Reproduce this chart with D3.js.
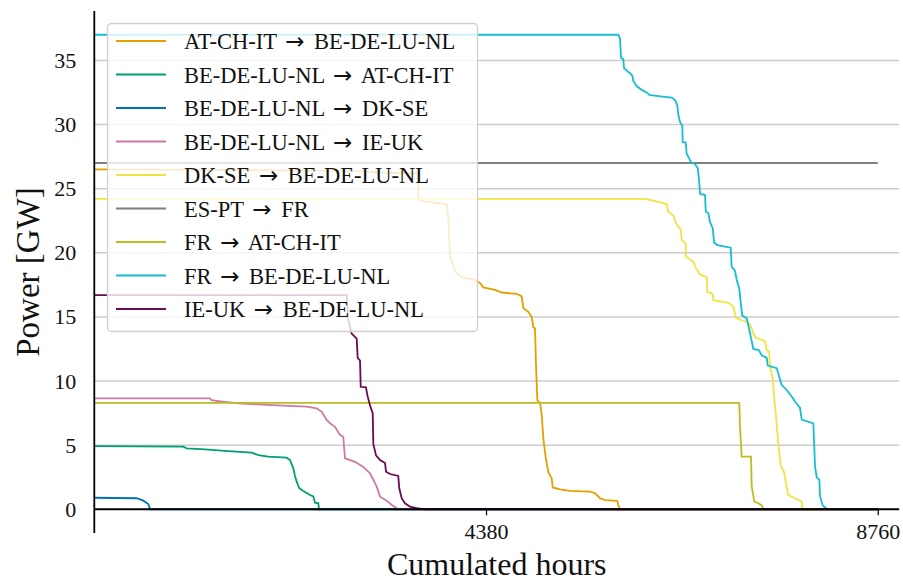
<!DOCTYPE html>
<html>
<head>
<meta charset="utf-8">
<script src="https://cdn.jsdelivr.net/npm/d3@7"></script>
<style>
  html, body { margin: 0; padding: 0; background: #fff; }
  svg { display: block; }
  text { font-family: "Liberation Serif", "Times New Roman", serif; fill: #111; }
</style>
</head>
<body>
<svg id="chart" width="903" height="582"></svg>
<script>
// Duration curves of cross-border flows, [cumulated hours, GW] breakpoints
const seriesNames = [
  "AT-CH-IT \u2192 BE-DE-LU-NL",
  "BE-DE-LU-NL \u2192 AT-CH-IT",
  "BE-DE-LU-NL \u2192 DK-SE",
  "BE-DE-LU-NL \u2192 IE-UK",
  "DK-SE \u2192 BE-DE-LU-NL",
  "ES-PT \u2192 FR",
  "FR \u2192 AT-CH-IT",
  "FR \u2192 BE-DE-LU-NL",
  "IE-UK \u2192 BE-DE-LU-NL"
];

const atchitToBedelunl = [
  [0, 26.5], [2750, 26.4], [3420, 26.2], [3623, 26.2], [3624, 24.2], [3679, 24.0],
  [3941, 23.8], [3958, 22.8], [3977, 19.7], [4014, 19.0], [4052, 18.4], [4108, 18.1],
  [4238, 17.9], [4313, 17.65], [4350, 17.3], [4481, 17.1], [4556, 16.9], [4723, 16.8],
  [4779, 16.6], [4797, 15.7], [4853, 15.4], [4891, 15.0], [4909, 14.2], [4928, 14.1],
  [4939, 11.2], [4954, 8.5], [4984, 8.3], [5003, 7.35], [5021, 5.5], [5048, 4.0],
  [5077, 2.9], [5115, 2.4], [5126, 1.7], [5208, 1.56], [5320, 1.43], [5543, 1.37],
  [5599, 1.25], [5655, 0.86], [5711, 0.72], [5848, 0.65], [5859, 0.33], [5878, 0],
  [8760, 0]
];

const bedelunlToAtchit = [
  [0, 4.93], [995, 4.88], [1033, 4.75], [1238, 4.67], [1498, 4.54], [1760, 4.41],
  [1834, 4.23], [1946, 4.1], [2151, 4.02], [2188, 3.84], [2225, 3.19], [2244, 2.6],
  [2263, 2.15], [2292, 1.64], [2337, 1.43], [2412, 1.11], [2449, 1.0], [2468, 0.51],
  [2505, 0.47], [2513, 0], [8760, 0]
];

const bedelunlToDkse = [
  [0, 0.9], [474, 0.86], [548, 0.67], [604, 0.41], [623, 0], [8760, 0]
];

const bedelunlToIeuk = [
  [0, 8.65], [1294, 8.65], [1313, 8.5], [1387, 8.44], [1610, 8.26], [1984, 8.12],
  [2244, 8.05], [2375, 8.0], [2487, 7.87], [2543, 7.6], [2599, 6.96], [2636, 6.7],
  [2691, 6.43], [2747, 5.8], [2784, 5.65], [2803, 3.97], [2915, 3.7], [3008, 3.3],
  [3083, 2.8], [3120, 2.3], [3158, 1.76], [3195, 0.98], [3270, 0.67], [3326, 0.33],
  [3381, 0.08], [3418, 0], [8760, 0]
];

const dkseToBedelunl = [
  [0, 24.2], [6158, 24.2], [6289, 24.0], [6400, 23.8], [6418, 23.2], [6474, 22.9],
  [6505, 22.3], [6557, 21.8], [6568, 21.0], [6613, 20.7], [6616, 19.7], [6698, 19.3],
  [6728, 18.8], [6773, 18.3], [6848, 18.1], [6855, 16.95], [6915, 16.8], [6922, 16.3],
  [7089, 16.1], [7145, 15.8], [7176, 14.9], [7257, 14.7], [7302, 14.6], [7332, 14.4],
  [7388, 13.4], [7500, 13.1], [7519, 12.4], [7545, 12.3], [7556, 11.1], [7586, 10.2],
  [7601, 8.8], [7623, 7.2], [7649, 5.0], [7675, 3.45], [7712, 2.9], [7735, 2.0],
  [7760, 1.1], [7835, 0.86], [7910, 0.6], [7917, 0], [8760, 0]
];

const esptToFr = [
  [0, 27.0], [8760, 27.0]
];

const frToAtchit = [
  [0, 8.3], [7212, 8.3], [7220, 6.4], [7239, 4.1], [7343, 4.1], [7351, 1.76],
  [7380, 0.6], [7425, 0.47], [7463, 0.3], [7481, 0], [8760, 0]
];

const frToBedelunl = [
  [0, 37.0], [5859, 37.0], [5878, 36.7], [5890, 35.2], [5915, 35.1], [5923, 34.4],
  [5953, 34.2], [5990, 34.0], [6016, 33.8], [6027, 33.4], [6065, 33.0], [6121, 32.7],
  [6177, 32.5], [6206, 32.3], [6326, 32.2], [6456, 32.1], [6493, 31.9], [6519, 31.5],
  [6530, 30.8], [6549, 30.2], [6575, 29.9], [6579, 28.6], [6613, 28.6], [6624, 27.7],
  [6642, 27.5], [6669, 27.1], [6717, 26.9], [6747, 26.6], [6762, 25.7], [6773, 24.6],
  [6829, 24.5], [6837, 23.2], [6866, 23.1], [6885, 22.4], [6915, 21.9], [6930, 20.8],
  [6966, 20.6], [7116, 20.4], [7127, 18.9], [7164, 18.6], [7183, 17.9], [7212, 17.2],
  [7231, 15.9], [7246, 15.1], [7295, 14.9], [7324, 14.0], [7369, 12.5], [7433, 12.4],
  [7463, 12.0], [7519, 11.8], [7530, 11.2], [7631, 11.0], [7660, 10.3], [7686, 9.7],
  [7742, 9.3], [7798, 8.8], [7835, 8.4], [7891, 7.9], [7910, 7.0], [8040, 6.7],
  [8059, 3.3], [8078, 2.5], [8107, 2.3], [8115, 1.0], [8145, 0.3], [8190, 0.05],
  [8210, 0], [8760, 0]
];

const ieukToBedelunl = [
  [0, 16.7], [2822, 16.7], [2840, 14.75], [2878, 13.7], [2934, 13.3], [2945, 11.8],
  [2971, 11.6], [2979, 9.55], [3038, 9.5], [3053, 8.9], [3083, 8.1], [3113, 7.5],
  [3120, 5.1], [3150, 4.2], [3195, 3.84], [3251, 3.6], [3262, 2.93], [3307, 2.75],
  [3399, 2.6], [3410, 1.64], [3437, 0.86], [3474, 0.47], [3530, 0.2], [3605, 0.08],
  [3698, 0], [8760, 0]
];

const seriesValues = [
  atchitToBedelunl, bedelunlToAtchit, bedelunlToDkse, bedelunlToIeuk,
  dkseToBedelunl, esptToFr, frToAtchit, frToBedelunl, ieukToBedelunl
];

const seriesColors = [
  "#e69f00", "#009e73", "#0072b2", "#cc79a7", "#f0e442",
  "#7f7f7f", "#bcbd22", "#17becf", "#6a0a52"
];

const xTicks = [4380, 8760];
const yTicks = [0, 5, 10, 15, 20, 25, 30, 35];
const yGrid = [5, 10, 15, 20, 25, 30, 35];

// Plot area
const plotLeft = 94.3, plotRight = 899.2, plotTop = 11, plotBottom = 533;

const x = d3.scaleLinear().domain([0, 9000]).range([plotLeft, plotRight]);
const y = d3.scaleLinear().domain([-1.85, 38.85]).range([plotBottom, plotTop]);

const svg = d3.select("#chart");

// horizontal grid
svg.append("g")
  .selectAll("line")
  .data(yGrid)
  .join("line")
  .attr("x1", plotLeft).attr("x2", plotRight)
  .attr("y1", d => y(d)).attr("y2", d => y(d))
  .attr("stroke", "#cccccc")
  .attr("stroke-width", 1.5);

// duration curves
const line = d3.line().x(d => x(d[0])).y(d => y(d[1]));
svg.append("g")
  .selectAll("path")
  .data(seriesValues)
  .join("path")
  .attr("d", line)
  .attr("fill", "none")
  .attr("stroke", (d, i) => seriesColors[i])
  .attr("stroke-width", 1.8)
  .attr("stroke-linejoin", "miter");

// x axis sits on y = 0
const xAxis = svg.append("g")
  .attr("transform", `translate(0,${y(0)})`)
  .call(d3.axisBottom(x).tickValues(xTicks).tickSize(6).tickPadding(8).tickFormat(d3.format("d")));
xAxis.select(".domain").attr("stroke", "#000").attr("stroke-width", 1.8)
  .attr("d", `M${plotLeft},0H${plotRight}`);
xAxis.selectAll(".tick line").attr("stroke", "#000").attr("stroke-width", 1.2);
xAxis.selectAll(".tick text")
  .attr("font-family", "Liberation Serif, serif")
  .attr("font-size", 22).attr("fill", "#111");

// y axis on x = 0
const yAxis = svg.append("g")
  .attr("transform", `translate(${x(0)},0)`)
  .call(d3.axisLeft(y).tickValues(yTicks).tickSize(0).tickPadding(18).tickFormat(d3.format("d")));
yAxis.select(".domain").attr("stroke", "#000").attr("stroke-width", 1.8)
  .attr("d", `M0,${plotTop}V${plotBottom}`);
yAxis.selectAll(".tick text")
  .attr("font-family", "Liberation Serif, serif")
  .attr("font-size", 22).attr("fill", "#111");

// axis titles
svg.append("text")
  .attr("x", (plotLeft + plotRight) / 2).attr("y", 575)
  .attr("text-anchor", "middle")
  .attr("font-size", 32)
  .text("Cumulated hours");

svg.append("text")
  .attr("transform", `translate(39,${(plotTop + plotBottom) / 2}) rotate(-90)`)
  .attr("text-anchor", "middle")
  .attr("font-size", 33)
  .text("Power [GW]");

// legend
const legend = svg.append("g");
legend.append("rect")
  .attr("x", 107.5).attr("y", 23.5)
  .attr("width", 370).attr("height", 308)
  .attr("rx", 4).attr("ry", 4)
  .attr("fill", "rgba(255,255,255,0.8)")
  .attr("stroke", "#d0d0d0")
  .attr("stroke-width", 1.3);

const rowY = i => 41 + 33.5 * i;
const rows = legend.selectAll("g.row")
  .data(seriesNames)
  .join("g")
  .attr("class", "row");
rows.append("line")
  .attr("x1", 116).attr("x2", 166)
  .attr("y1", (d, i) => rowY(i)).attr("y2", (d, i) => rowY(i))
  .attr("stroke", (d, i) => seriesColors[i])
  .attr("stroke-width", 1.8);
const labels = rows.append("text")
  .attr("x", 184)
  .attr("y", (d, i) => rowY(i) + 8)
  .attr("font-size", 22.5);
// split each label around the arrow so the arrow can use a wider glyph
labels.each(function (d) {
  const parts = d.split("\u2192");
  const t = d3.select(this);
  t.append("tspan").text(parts[0]);
  t.append("tspan").attr("dx", 3).attr("font-family", "DejaVu Sans").attr("font-size", 23).text("\u2192");
  t.append("tspan").attr("dx", 4).text(parts[1]);
});
</script>
</body>
</html>
